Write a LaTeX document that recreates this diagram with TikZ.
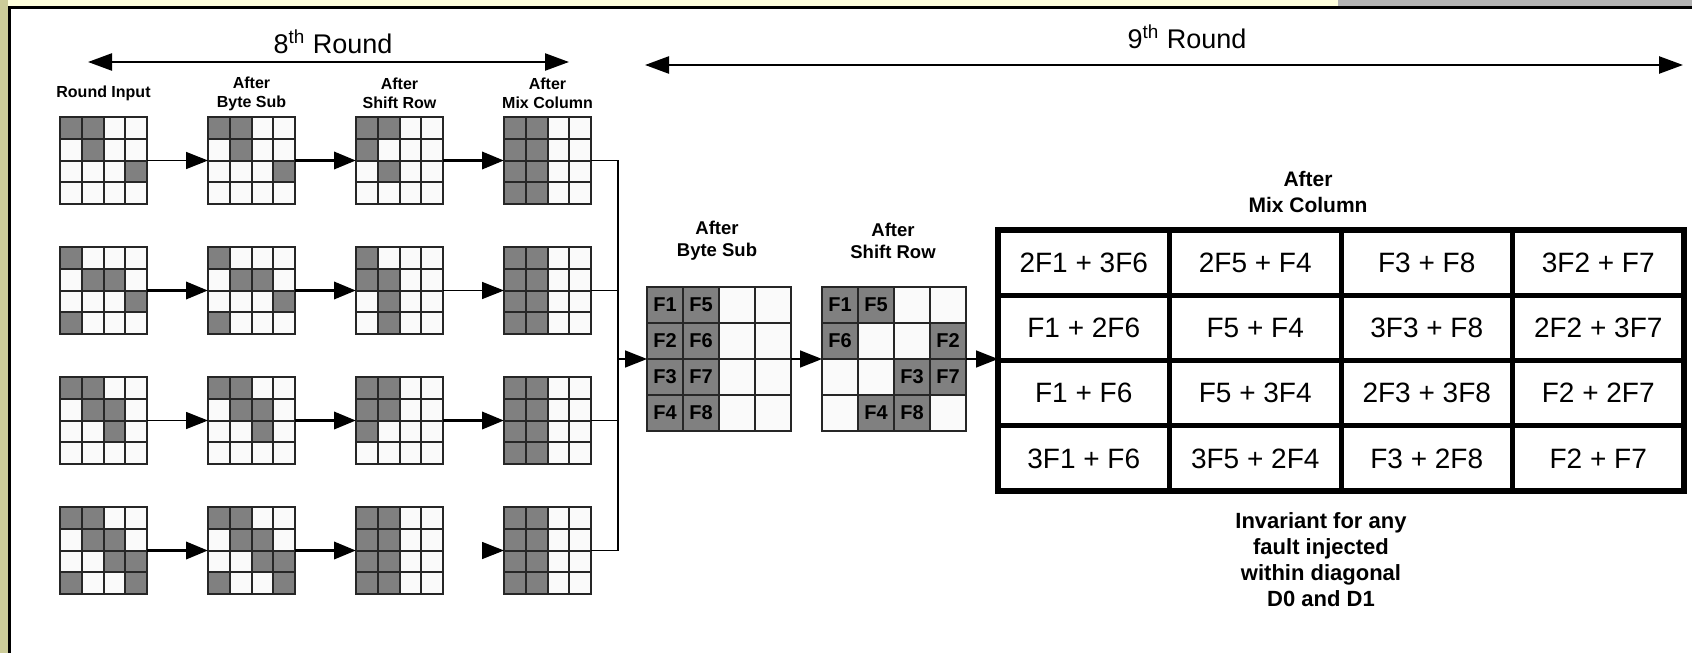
\documentclass[tikz,border=0pt]{standalone}
\usepackage{fontspec}
\setmainfont{Liberation Sans}
\usepackage{tikz}
\usetikzlibrary{arrows.meta, positioning}
\definecolor{framebeige}{RGB}{204,204,153}
\definecolor{topcream}{RGB}{255,255,221}
\definecolor{topgrey}{RGB}{179,179,179}
\definecolor{cellgrey}{RGB}{128,128,128}
\definecolor{cellwhite}{RGB}{250,250,250}

% state of the 8th round: name, left, top, grey cells r/c
\newcommand{\stategrid}[4]{%
  \node[gridframe, minimum size=43.5pt] (#1) at (#2+43.5,#3+43.5) {};
  \foreach \r in {1,...,4}{
    \foreach \c in {1,...,4}{
      \draw[cellline, fill=cellwhite] (#2+\c*21.75-21.75,#3+\r*21.75-21.75) rectangle ++(21.75,21.75);
    }
  }
  \foreach \r/\c in {#4}{
    \draw[cellline, fill=cellgrey] (#2+\c*21.75-21.75,#3+\r*21.75-21.75) rectangle ++(21.75,21.75);
  }
}
% state of the 9th round with fault bytes: name, left, top, r/c/label
\newcommand{\bytegrid}[4]{%
  \node[gridframe, minimum size=72pt] (#1) at (#2+72,#3+72) {};
  \foreach \r in {1,...,4}{
    \foreach \c in {1,...,4}{
      \draw[cellline, fill=cellwhite] (#2+\c*36-36,#3+\r*36-36) rectangle ++(36,36);
    }
  }
  \foreach \r/\c/\t in {#4}{
    \draw[cellline, fill=cellgrey] (#2+\c*36-36,#3+\r*36-36) rectangle ++(36,36);
    \node[cellfont] (#1-\r-\c) at (#2+\c*36-18,#3+\r*36-18) {\t};
  }
}

\begin{document}
\begin{tikzpicture}[
    x=0.5pt, y=-0.5pt,
    gridframe/.style={rectangle, inner sep=0pt, outer sep=0pt},
    cellline/.style={draw=black!85, line width=1pt},
    cellfont/.style={font=\bfseries\fontsize{10}{12}\selectfont, inner sep=0pt},
    headsmall/.style={font=\bfseries\fontsize{8}{9.5}\selectfont, align=center, inner sep=0pt},
    headbig/.style={font=\bfseries\fontsize{9.25}{11}\selectfont, align=center, inner sep=0pt},
    mixhead/.style={font=\bfseries\fontsize{10.5}{13}\selectfont, align=center, inner sep=0pt},
    notetext/.style={font=\bfseries\fontsize{11}{13}\selectfont, align=center, inner sep=0pt},
    roundtitle/.style={font=\fontsize{13.5}{15}\selectfont, inner sep=0pt},
    mixcell/.style={rectangle, draw, line width=2.5pt, minimum width=85.75pt, minimum height=32.6pt, inner sep=0pt, outer sep=0pt, font=\fontsize{14}{16}\selectfont},
    tipe/.style={-{Triangle[length=11pt,width=8.5pt]}},
    thinarrow/.style={tipe, line width=0.75pt},
    thickarrow/.style={tipe, line width=1.8pt},
    roundarrow/.style={{Triangle[length=12pt,width=8.5pt]}-{Triangle[length=12pt,width=8.5pt]}, line width=1.2pt},
    busline/.style={line width=0.8pt}
  ]
  \useasboundingbox (0,0) rectangle (1692,653);

  % Frame
  \fill[white] (0,0) rectangle (1692,653);
  \fill[framebeige] (0,0) rectangle (8,653);
  \fill[topcream] (8,0) rectangle (1338,6);
  \fill[topgrey] (1338,0) rectangle (1692,6);
  \draw[line width=1.5pt] (9.5,653) -- (9.5,7.5) -- (1692,7.5);

  % Rounds
  \node[roundtitle] (t8) at (333,42) {8\textsuperscript{th} Round};
  \node[roundtitle] (t9) at (1187,37) {9\textsuperscript{th} Round};
  \coordinate (a8l) at (88,62);
  \coordinate (a8r) at (569,62);
  \coordinate (a9l) at (645,65);
  \coordinate (a9r) at (1683,65);
  \draw[roundarrow] (a8l) -- (a8r);
  \draw[roundarrow] (a9l) -- (a9r);

  % 8th round headings
  \node[headsmall] (h1) at (103.5,93) {Round Input};
  \node[headsmall] (h2) at (251.5,93.5) {After\\Byte Sub};
  \node[headsmall] (h3) at (399.5,93.5) {After\\Shift Row};
  \node[headsmall] (h4) at (547.5,93.5) {After\\Mix Column};

  % 8th round states
  \stategrid{g11}{60}{117}{1/1,1/2,2/2,3/4}
  \stategrid{g12}{208}{117}{1/1,1/2,2/2,3/4}
  \stategrid{g13}{356}{117}{1/1,1/2,2/1,3/2}
  \stategrid{g14}{504}{117}{1/1,1/2,2/1,2/2,3/1,3/2,4/1,4/2}

  \stategrid{g21}{60}{247}{1/1,2/2,2/3,3/4,4/1}
  \stategrid{g22}{208}{247}{1/1,2/2,2/3,3/4,4/1}
  \stategrid{g23}{356}{247}{1/1,2/1,2/2,3/2,4/2}
  \stategrid{g24}{504}{247}{1/1,1/2,2/1,2/2,3/1,3/2,4/1,4/2}

  \stategrid{g31}{60}{377}{1/1,1/2,2/2,2/3,3/3}
  \stategrid{g32}{208}{377}{1/1,1/2,2/2,2/3,3/3}
  \stategrid{g33}{356}{377}{1/1,1/2,2/1,2/2,3/1}
  \stategrid{g34}{504}{377}{1/1,1/2,2/1,2/2,3/1,3/2,4/1,4/2}

  \stategrid{g41}{60}{507}{1/1,1/2,2/2,2/3,3/3,3/4,4/1,4/4}
  \stategrid{g42}{208}{507}{1/1,1/2,2/2,2/3,3/3,3/4,4/1,4/4}
  \stategrid{g43}{356}{507}{1/1,1/2,2/1,2/2,3/1,3/2,4/1,4/2}
  \stategrid{g44}{504}{507}{1/1,1/2,2/1,2/2,3/1,3/2,4/1,4/2}

  % Arrows of the 8th round
  \draw[thinarrow] (g11.east) -- (g12.west);
  \draw[thickarrow] (g12.east) -- (g13.west);
  \draw[thickarrow] (g13.east) -- (g14.west);
  \draw[thickarrow] (g21.east) -- (g22.west);
  \draw[thickarrow] (g22.east) -- (g23.west);
  \draw[thinarrow] (g23.east) -- (g24.west);
  \draw[thinarrow] (g31.east) -- (g32.west);
  \draw[thickarrow] (g32.east) -- (g33.west);
  \draw[thickarrow] (g33.east) -- (g34.west);
  \draw[thickarrow] (g41.east) -- (g42.west);
  \draw[thickarrow] (g42.east) -- (g43.west);
  \coordinate (tip44) at ([xshift=-11pt]g44.west);
  \draw[thinarrow] (tip44) -- (g44.west);

  % Collector
  \coordinate (bus) at (618,359);
  \draw[busline] (g14.east) -- (g14.east -| bus) -- (g44.east -| bus) -- (g44.east);
  \draw[busline] (g24.east) -- (g24.east -| bus);
  \draw[busline] (g34.east) -- (g34.east -| bus);

  % 9th round
  \node[headbig] (h5) at (717,241) {After\\Byte Sub};
  \node[headbig] (h6) at (893,241) {After\\Shift Row};
  \bytegrid{bs}{647}{287}{1/1/F1,2/1/F2,3/1/F3,4/1/F4,1/2/F5,2/2/F6,3/2/F7,4/2/F8}
  \bytegrid{sr}{822}{287}{1/1/F1,1/2/F5,2/1/F6,2/4/F2,3/3/F3,3/4/F7,4/2/F4,4/3/F8}

  % Mix column table
  \node[mixhead] (h7) at (1308,192) {After\\Mix Column};
  \foreach [count=\r] \mixrow in {{2F1 + 3F6, 2F5 + F4, F3 + F8, 3F2 + F7},
      {F1 + 2F6, F5 + F4, 3F3 + F8, 2F2 + 3F7},
      {F1 + F6, F5 + 3F4, 2F3 + 3F8, F2 + 2F7},
      {3F1 + F6, 3F5 + 2F4, F3 + 2F8, F2 + F7}}{
    \foreach [count=\c] \entry in \mixrow {
      \node[mixcell] (mc-\r-\c) at (998+\c*171.5-85.75,230+\r*65.25-32.625) {\entry};
    }
  }
  \draw[line width=3pt] (mc-1-1.north west) rectangle (mc-4-4.south east);

  \draw[thinarrow] (bus) -- (bs.west);
  \draw[thinarrow] (bs.east) -- (sr.west);
  \draw[thinarrow] (sr.east) -- (sr.east -| mc-2-1.west);

  \node[notetext] (note) at (1321,560) {Invariant for any\\fault injected\\within diagonal\\D0 and D1};

\end{tikzpicture}
\end{document}
